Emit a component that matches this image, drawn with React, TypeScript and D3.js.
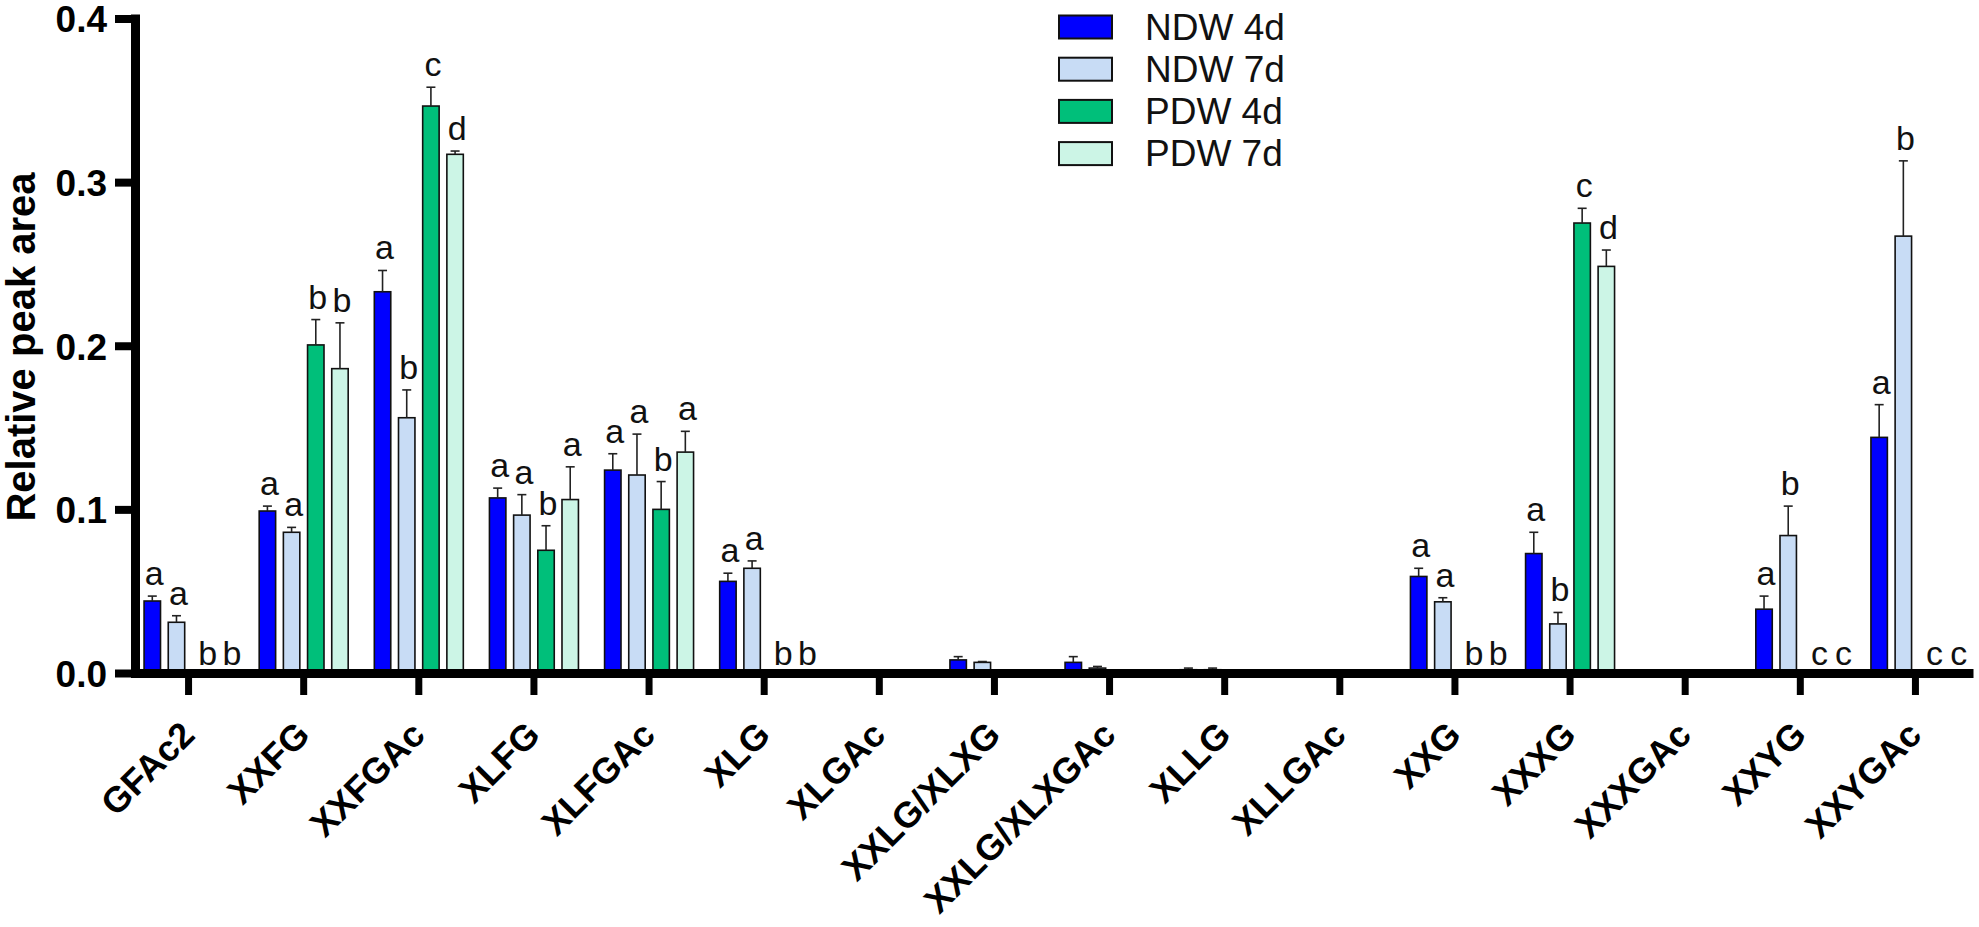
import React, { useEffect, useRef } from 'react';
import * as d3 from 'd3';

const categories = [
  'GFAc2', 'XXFG', 'XXFGAc', 'XLFG', 'XLFGAc', 'XLG', 'XLGAc', 'XXLG/XLXG',
  'XXLG/XLXGAc', 'XLLG', 'XLLGAc', 'XXG', 'XXXG', 'XXXGAc', 'XXYG', 'XXYGAc',
];

const seriesNames = ['NDW 4d', 'NDW 7d', 'PDW 4d', 'PDW 7d'];
const seriesColors = ['#0000FF', '#C8DCF5', '#00BF7A', '#CCF5E6'];

const ndw4d = [0.044, 0.099, 0.233, 0.107, 0.124, 0.056, 0.0005, 0.008, 0.0065, 0.002, 0.001, 0.059, 0.073, 0, 0.039, 0.144];
const ndw4dErr = [0.003, 0.003, 0.013, 0.006, 0.010, 0.005, 0, 0.002, 0.0035, 0.001, 0, 0.005, 0.013, 0, 0.008, 0.020];
const ndw7d = [0.031, 0.086, 0.156, 0.0965, 0.121, 0.064, 0, 0.0065, 0.003, 0.002, 0, 0.0435, 0.030, 0, 0.084, 0.267];
const ndw7dErr = [0.004, 0.003, 0.017, 0.0125, 0.025, 0.0045, 0, 0.0005, 0.001, 0.001, 0, 0.0025, 0.007, 0, 0.018, 0.046];
const pdw4d = [0, 0.2005, 0.3465, 0.075, 0.100, 0, 0, 0, 0, 0, 0, 0, 0.275, 0, 0, 0];
const pdw4dErr = [0, 0.0155, 0.0115, 0.015, 0.017, 0, 0, 0, 0, 0, 0, 0, 0.009, 0, 0, 0];
const pdw7d = [0, 0.186, 0.317, 0.106, 0.135, 0, 0, 0, 0, 0, 0, 0, 0.2485, 0, 0, 0];
const pdw7dErr = [0, 0.028, 0.002, 0.020, 0.0127, 0, 0, 0, 0, 0, 0, 0, 0.010, 0, 0, 0];

// significance letters per series ('' = none)
const ndw4dSig = ['a', 'a', 'a', 'a', 'a', 'a', '', '', '', '', '', 'a', 'a', '', 'a', 'a'];
const ndw7dSig = ['a', 'a', 'b', 'a', 'a', 'a', '', '', '', '', '', 'a', 'b', '', 'b', 'b'];
const pdw4dSig = ['b', 'b', 'c', 'b', 'b', 'b', '', '', '', '', '', 'b', 'c', '', 'c', 'c'];
const pdw7dSig = ['b', 'b', 'd', 'a', 'a', 'b', '', '', '', '', '', 'b', 'd', '', 'c', 'c'];

const yTicks = [0, 0.1, 0.2, 0.3, 0.4];

const FONT = '"Liberation Sans", Arial, sans-serif';

export default function App() {
  const svgRef = useRef<SVGSVGElement>(null);

  useEffect(() => {
    if (!svgRef.current) return;
    const svg = d3.select(svgRef.current);
    svg.selectAll('*').remove();

    const values = [ndw4d, ndw7d, pdw4d, pdw7d];
    const errors = [ndw4dErr, ndw7dErr, pdw4dErr, pdw7dErr];
    const sigs = [ndw4dSig, ndw7dSig, pdw4dSig, pdw7dSig];

    const rows = categories.flatMap((c, i) =>
      seriesNames.map((s, k) => ({
        cat: c, k, v: values[k][i], e: errors[k][i], sig: sigs[k][i],
      }))
    );

    const x0 = d3.scaleBand().domain(categories).range([131, 1973]).paddingInner(0.227).paddingOuter(0.1135);
    const x1 = d3.scaleBand().domain(seriesNames).range([0, x0.bandwidth()]).paddingInner(0.32);
    const y = d3.scaleLinear().domain([0, 0.4]).range([673, 18.5]);

    const g = svg.append('g');

    // bars
    g.selectAll('rect.bar')
      .data(rows.filter(d => d.v > 0))
      .enter()
      .append('rect')
      .attr('class', 'bar')
      .attr('x', d => (x0(d.cat) || 0) + (x1(seriesNames[d.k]) || 0))
      .attr('y', d => y(d.v))
      .attr('width', x1.bandwidth())
      .attr('height', d => y(0) - y(d.v))
      .attr('fill', d => seriesColors[d.k])
      .attr('stroke', '#111')
      .attr('stroke-width', 1.6);

    const cx = (d: any) => (x0(d.cat) || 0) + (x1(seriesNames[d.k]) || 0) + x1.bandwidth() / 2;

    // error bars (upper only)
    const eb = g.selectAll('g.err')
      .data(rows.filter(d => d.e > 0))
      .enter()
      .append('g')
      .attr('class', 'err')
      .attr('stroke', '#222')
      .attr('stroke-width', 1.6);
    eb.append('line')
      .attr('x1', cx).attr('x2', cx)
      .attr('y1', d => y(d.v)).attr('y2', d => y(d.v + d.e));
    eb.append('line')
      .attr('x1', d => cx(d) - 4.5).attr('x2', d => cx(d) + 4.5)
      .attr('y1', d => y(d.v + d.e)).attr('y2', d => y(d.v + d.e));

    // letters
    g.selectAll('text.sig')
      .data(rows.filter(d => d.sig))
      .enter()
      .append('text')
      .attr('class', 'sig')
      .attr('x', d => cx(d) + (d.v > 0 ? 2 : 7))
      .attr('y', d => d.v > 0 ? y(d.v + d.e) - 11 : y(0) - 8)
      .attr('text-anchor', 'middle')
      .attr('font-family', FONT)
      .attr('font-size', 34)
      .attr('fill', '#111')
      .text(d => d.sig);

    // y axis
    const yAxis = g.append('g')
      .attr('transform', 'translate(135,0)')
      .call(d3.axisLeft(y).tickValues(yTicks).tickFormat(d3.format('.1f')).tickSize(20).tickSizeOuter(0).tickPadding(8));
    yAxis.select('.domain').attr('stroke', '#000').attr('stroke-width', 9).attr('stroke-linecap', 'square');
    yAxis.selectAll('.tick line').attr('stroke', '#000').attr('stroke-width', 8);
    yAxis.selectAll('.tick text')
      .attr('font-family', FONT).attr('font-size', 37).attr('font-weight', 'bold').attr('fill', '#000')
      .attr('dy', '0.36em');

    // x axis
    const xAxis = g.append('g')
      .attr('transform', 'translate(0,673)')
      .call(d3.axisBottom(x0).tickSize(22).tickSizeOuter(0));
    xAxis.select('.domain').attr('stroke', '#000').attr('stroke-width', 9);
    xAxis.selectAll('.tick line').attr('stroke', '#000').attr('stroke-width', 7);
    xAxis.selectAll('.tick text')
      .attr('font-family', FONT).attr('font-size', 36).attr('font-weight', 'bold').attr('fill', '#000')
      .attr('text-anchor', 'end')
      .attr('x', 0).attr('y', 0).attr('dy', 0)
      .attr('transform', 'translate(8,64) rotate(-45)');

    // y title
    g.append('text')
      .attr('transform', 'translate(35,347) rotate(-90)')
      .attr('text-anchor', 'middle')
      .attr('font-family', FONT)
      .attr('font-size', 40)
      .attr('font-weight', 'bold')
      .attr('fill', '#000')
      .text('Relative peak area');

    // legend
    const lg = g.append('g').attr('transform', 'translate(1059,27)');
    const items = lg.selectAll('g').data(seriesNames).enter().append('g')
      .attr('transform', (d, i) => `translate(0,${i * 42.2})`);
    items.append('rect')
      .attr('x', 0).attr('y', -11.5).attr('width', 53).attr('height', 23)
      .attr('fill', (d, i) => seriesColors[i]).attr('stroke', '#111').attr('stroke-width', 2);
    items.append('text')
      .attr('x', 86).attr('y', 12.5)
      .attr('font-family', FONT).attr('font-size', 37).attr('fill', '#111')
      .text(d => d);
  }, []);

  return (
    <svg
      ref={svgRef}
      width={1979}
      height={927}
      style={{ position: 'absolute', left: 0, top: 0, background: '#fff' }}
    />
  );
}
